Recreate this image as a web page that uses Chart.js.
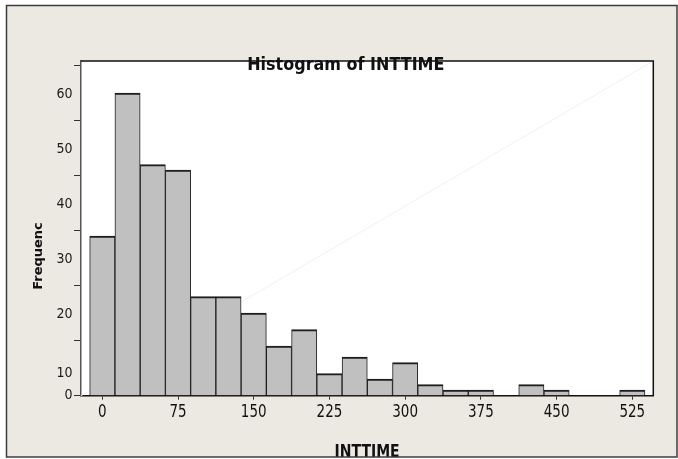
<!DOCTYPE html>
<html>
<head>
<meta charset="utf-8">
<script src="https://cdn.jsdelivr.net/npm/chart.js@4/dist/chart.umd.min.js"></script>
<style>
  html, body { margin: 0; padding: 0; background: #ffffff; overflow: hidden; }
  #wrap { width: 678px; height: 459px; position: relative; }
  canvas { display: block; }
</style>
</head>
<body>
<div id="wrap"><canvas id="hist" width="678" height="459"></canvas></div>
<script>
// Histogram bins (centres, width 25) and their frequencies
const binCenters = [0, 25, 50, 75, 100, 125, 150, 175, 200, 225, 250, 275, 300, 325, 350, 375, 400, 425, 450, 475, 500, 525];
const counts     = [29, 55, 42, 41, 18, 18, 15, 9, 12, 4, 7, 3, 6, 2, 1, 1, 0, 2, 1, 0, 0, 1];

// Axis ticks
const xTickValues = [0, 75, 150, 225, 300, 375, 450, 525];
const yTickMarks  = [0, 10, 20, 30, 40, 50, 60];
const yTickLabels = ['0', '10', '20', '30', '40', '50', '60'];
const yLabelAt    = [0, 4.1, 14.8, 24.7, 34.7, 44.7, 54.8];

// Texts
const titleText = 'Histogram of INTTIME';
const xTitleText = 'INTTIME';
const yTitleText = 'Frequenc';

const SANS = "'DejaVu Sans', Verdana, sans-serif";
const COND = "'DejaVu Sans Condensed', 'DejaVu Sans', sans-serif";
const PANEL = '#ece9e2';

// draw text stretched vertically around its baseline
function stretchedText(ctx, text, x, y, font, sy, align) {
  ctx.save();
  ctx.translate(x, y);
  ctx.scale(1, sy);
  ctx.font = font;
  ctx.textAlign = align || 'center';
  ctx.textBaseline = 'alphabetic';
  ctx.fillStyle = '#111';
  ctx.fillText(text, 0, 0);
  ctx.restore();
}

const framePlugin = {
  id: 'frame',
  beforeDraw(chart) {
    const { ctx, chartArea: a } = chart;
    ctx.save();
    ctx.fillStyle = '#ffffff';
    ctx.fillRect(0, 0, chart.width, chart.height);
    ctx.fillStyle = PANEL;
    ctx.fillRect(6.5, 5.5, 670.5, 451.5);
    ctx.fillStyle = '#ffffff';
    ctx.fillRect(a.left, a.top, a.right - a.left, a.bottom - a.top);
    ctx.restore();
  },
  beforeDatasetsDraw(chart) {
    const { ctx, chartArea: a } = chart;
    ctx.save();
    ctx.strokeStyle = '#f1f1f1';
    ctx.lineWidth = 1;
    ctx.beginPath();
    ctx.moveTo(a.left, a.bottom);
    ctx.lineTo(a.right, a.top);
    ctx.stroke();
    ctx.restore();
  },
  afterDraw(chart) {
    const { ctx, chartArea: a } = chart;
    const xs = chart.scales.x;
    ctx.save();
    // top and right edges of the plot box
    ctx.strokeStyle = '#111';
    ctx.lineWidth = 1.5;
    ctx.beginPath();
    ctx.moveTo(a.left, a.top);
    ctx.lineTo(a.right, a.top);
    ctx.lineTo(a.right, a.bottom);
    ctx.stroke();

    // x tick labels
    xTickValues.forEach(v => {
      stretchedText(ctx, String(v), xs.getPixelForValue(v), 417.3, '15px ' + COND, 1.22);
    });

    // chart title, sitting on the top edge
    stretchedText(ctx, titleText, 345.8, 70, 'bold 16px ' + SANS, 1.1);

    // x axis title
    stretchedText(ctx, xTitleText, (a.left + a.right) / 2, 456.6, 'bold 14px ' + SANS, 1.2);

    // y axis title
    ctx.save();
    ctx.translate(38.5, 256);
    ctx.rotate(-Math.PI / 2);
    ctx.font = 'bold 13px ' + SANS;
    ctx.textAlign = 'center';
    ctx.textBaseline = 'middle';
    ctx.fillStyle = '#111';
    ctx.fillText(yTitleText, 0, 0);
    ctx.restore();

    // outer panel border
    ctx.strokeStyle = '#3c3c3c';
    ctx.lineWidth = 1.5;
    ctx.strokeRect(6.5, 5.5, 670.5, 451.5);
    ctx.restore();
  }
};

new Chart(document.getElementById('hist'), {
  type: 'bar',
  data: {
    datasets: [{
      data: binCenters.map((x, i) => ({ x: x, y: counts[i] })),
      backgroundColor: '#c0c0c0',
      borderColor: '#1e1e1e',
      borderWidth: { top: 2, left: 1, right: 1, bottom: 0 },
      borderSkipped: 'bottom',
      barPercentage: 1,
      categoryPercentage: 1
    }]
  },
  options: {
    responsive: false,
    devicePixelRatio: 1,
    animation: false,
    layout: { padding: { left: 0, top: 61, right: 24.7, bottom: 0 } },
    plugins: {
      legend: { display: false },
      tooltip: { enabled: false },
      title: { display: false }
    },
    scales: {
      x: {
        type: 'linear',
        min: -21.1,
        max: 545.8,
        offset: false,
        afterBuildTicks(axis) { axis.ticks = xTickValues.map(v => ({ value: v })); },
        afterFit(axis) { axis.height = 63.3; },
        ticks: { display: false },
        grid: { drawOnChartArea: false, drawTicks: true, tickLength: 4, tickWidth: 1, tickColor: '#333', offset: false },
        border: { display: true, color: '#111', width: 1.5 }
      },
      y: {
        type: 'linear',
        min: 0,
        max: 60.85,
        afterBuildTicks(axis) {
          const t = yTickMarks.map(v => ({ value: v, mark: true }));
          yLabelAt.forEach((v, i) => t.push({ value: v, mark: false, text: yTickLabels[i] }));
          t.sort((p, q) => p.value - q.value);
          axis.ticks = t;
        },
        afterFit(axis) { axis.width = 81; },
        ticks: {
          autoSkip: false,
          padding: 1.5,
          color: '#1a1a1a',
          font: { family: COND, size: 14 },
          callback(value, index, ticks) { const t = ticks[index]; return t.mark ? '' : t.text; }
        },
        grid: {
          drawOnChartArea: false,
          drawTicks: true,
          tickLength: 7,
          tickWidth: 1,
          tickColor: (c) => (c.tick && c.tick.mark) ? '#333' : 'rgba(0,0,0,0)'
        },
        border: { display: true, color: '#555', width: 1.5 }
      }
    }
  },
  plugins: [framePlugin]
});
</script>
</body>
</html>
